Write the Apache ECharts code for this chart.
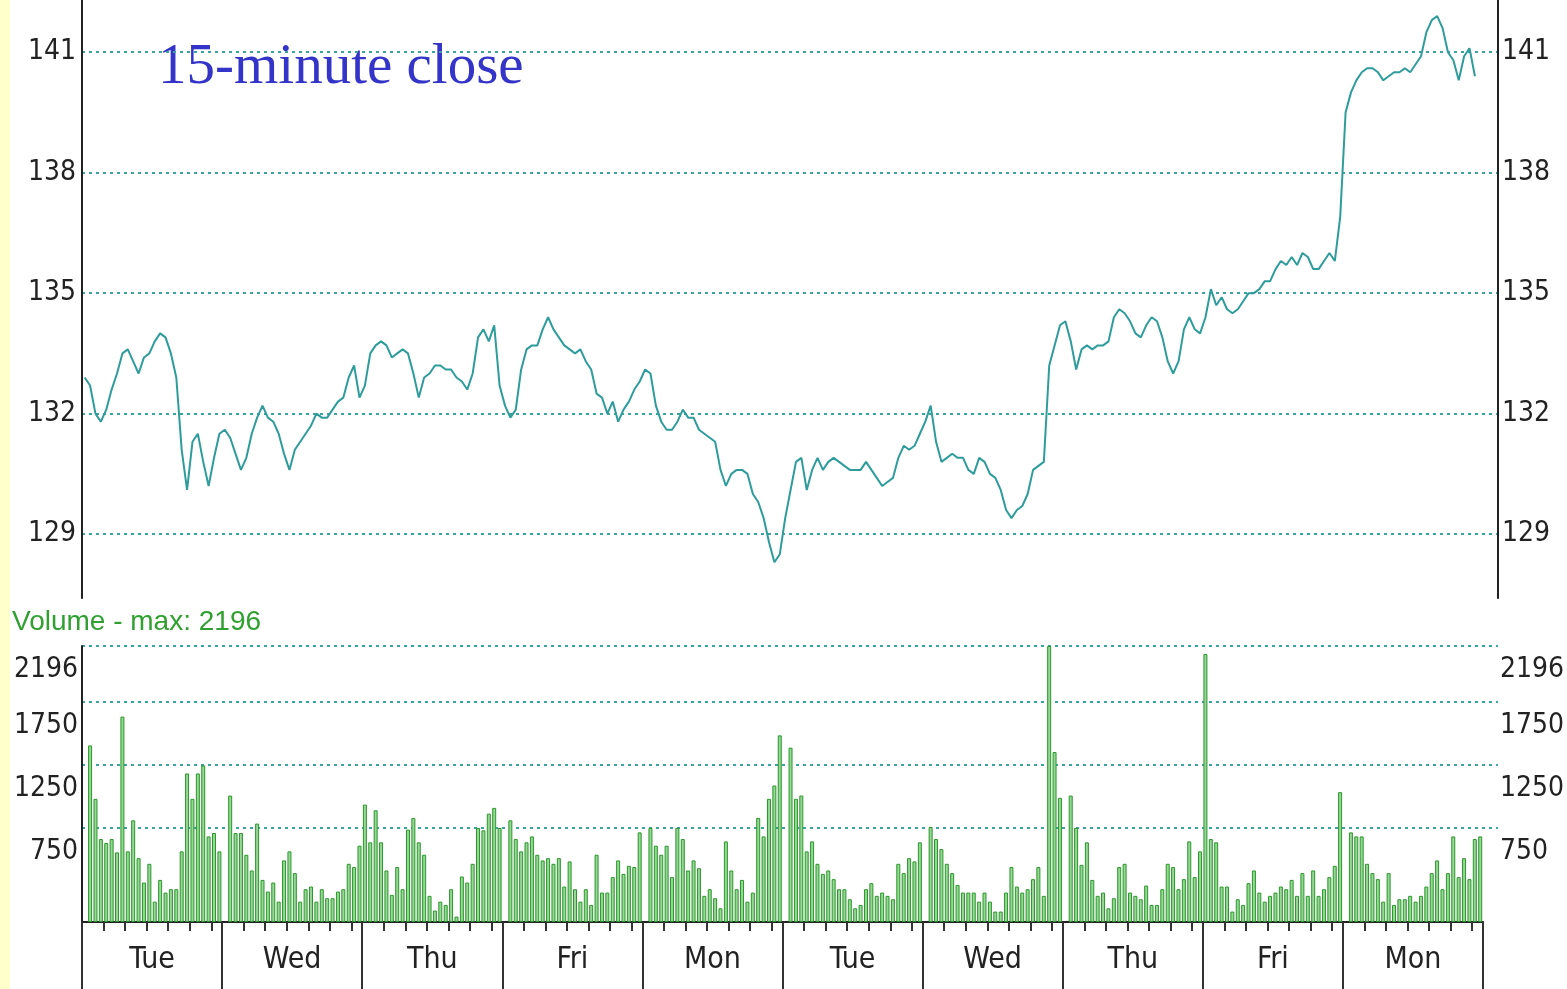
<!DOCTYPE html>
<html>
<head>
<meta charset="utf-8">
<script src="https://cdn.jsdelivr.net/npm/echarts@6/dist/echarts.min.js"></script>
<style>
  html, body { margin: 0; padding: 0; background: #fff; }
  #chart { width: 1567px; height: 989px; }
  #strip { position: absolute; left: 0; top: 0; width: 10px; height: 989px; background: #ffffcc; z-index: 2; }
</style>
</head>
<body>
<div id="chart"></div>
<div id="strip"></div>
<script>
// session labels, 26 fifteen-minute slots per day
const dayLabels = ['Tue', 'Wed', 'Thu', 'Fri', 'Mon', 'Tue', 'Wed', 'Thu', 'Fri', 'Mon'];
const slotsPerDay = 26;
const priceTicks = [129, 132, 135, 138, 141];
const volumeTicks = [750, 1250, 1750, 2196];

// 15-minute closes, one row per day
const closes = [
  132.9, 132.7, 132.0, 131.8, 132.1, 132.6, 133.0, 133.5, 133.6, 133.3, 133.0, 133.4, 133.5, 133.8, 134.0, 133.9, 133.5, 132.9, 131.1, 130.1, 131.3, 131.5, 130.8, 130.2, 130.9, 131.5,
  131.6, 131.4, 131.0, 130.6, 130.9, 131.5, 131.9, 132.2, 131.9, 131.8, 131.5, 131.0, 130.6, 131.1, 131.3, 131.5, 131.7, 132.0, 131.9, 131.9, 132.1, 132.3, 132.4, 132.9, 133.2, 132.4,
  132.7, 133.5, 133.7, 133.8, 133.7, 133.4, 133.5, 133.6, 133.5, 133.0, 132.4, 132.9, 133.0, 133.2, 133.2, 133.1, 133.1, 132.9, 132.8, 132.6, 133.0, 133.9, 134.1, 133.8, 134.2, 132.7,
  132.2, 131.9, 132.1, 133.1, 133.6, 133.7, 133.7, 134.1, 134.4, 134.1, 133.9, 133.7, 133.6, 133.5, 133.6, 133.3, 133.1, 132.5, 132.4, 132.0, 132.3, 131.8, 132.1, 132.3, 132.6, 132.8,
  133.1, 133.0, 132.2, 131.8, 131.6, 131.6, 131.8, 132.1, 131.9, 131.9, 131.6, 131.5, 131.4, 131.3, 130.6, 130.2, 130.5, 130.6, 130.6, 130.5, 130.0, 129.8, 129.4, 128.8, 128.3, 128.5,
  129.4, 130.1, 130.8, 130.9, 130.1, 130.6, 130.9, 130.6, 130.8, 130.9, 130.8, 130.7, 130.6, 130.6, 130.6, 130.8, 130.6, 130.4, 130.2, 130.3, 130.4, 130.9, 131.2, 131.1, 131.2, 131.5,
  131.8, 132.2, 131.3, 130.8, 130.9, 131.0, 130.9, 130.9, 130.6, 130.5, 130.9, 130.8, 130.5, 130.4, 130.1, 129.6, 129.4, 129.6, 129.7, 130.0, 130.6, 130.7, 130.8, 133.2, 133.7, 134.2,
  134.3, 133.8, 133.1, 133.6, 133.7, 133.6, 133.7, 133.7, 133.8, 134.4, 134.6, 134.5, 134.3, 134.0, 133.9, 134.2, 134.4, 134.3, 133.9, 133.3, 133.0, 133.3, 134.1, 134.4, 134.1, 134.0,
  134.4, 135.1, 134.7, 134.9, 134.6, 134.5, 134.6, 134.8, 135.0, 135.0, 135.1, 135.3, 135.3, 135.6, 135.8, 135.7, 135.9, 135.7, 136.0, 135.9, 135.6, 135.6, 135.8, 136.0, 135.8, 136.9,
  139.5, 140.0, 140.3, 140.5, 140.6, 140.6, 140.5, 140.3, 140.4, 140.5, 140.5, 140.6, 140.5, 140.7, 140.9, 141.5, 141.8, 141.9, 141.6, 141.0, 140.8, 140.3, 140.9, 141.1, 140.4, null
];

// 15-minute volume, one row per day
const volumes = [
  null, 1405, 980, 660, 628, 660, 554, 1634, 562, 809, 508, 314, 463, 162, 335, 234, 261, 261, 562, 1182, 980, 1182, 1246, 681, 708, 562,
  null, 1006, 708, 708, 535, 410, 783, 335, 242, 314, 162, 490, 562, 389, 162, 261, 282, 162, 261, 189, 189, 242, 261, 463, 437, 607,
  934, 634, 889, 634, 410, 216, 437, 261, 735, 828, 634, 535, 208, 91, 162, 136, 261, 43, 362, 314, 463, 748, 729, 862, 908, 748,
  null, 809, 660, 562, 634, 681, 535, 490, 508, 463, 508, 282, 482, 261, 162, 261, 136, 535, 234, 234, 357, 490, 383, 447, 437, 713,
  null, 748, 607, 535, 607, 357, 748, 660, 410, 490, 428, 208, 261, 189, 109, 641, 410, 261, 335, 162, 234, 828, 681, 980, 1086, 1485,
  null, 1387, 980, 1006, 562, 641, 463, 383, 410, 341, 261, 261, 181, 109, 136, 261, 309, 208, 234, 208, 181, 463, 389, 508, 482, 634,
  null, 756, 660, 580, 463, 389, 295, 234, 234, 234, 162, 234, 162, 83, 83, 234, 437, 282, 234, 261, 341, 437, 208, 2196, 1352, 988,
  null, 1006, 748, 455, 634, 335, 208, 234, 109, 189, 437, 463, 234, 208, 181, 290, 136, 136, 261, 463, 437, 261, 341, 641, 357, 562,
  2132, 660, 634, 282, 282, 83, 181, 136, 309, 410, 234, 162, 208, 234, 282, 261, 335, 208, 389, 208, 410, 208, 261, 357, 447, 1033,
  null, 713, 681, 681, 463, 389, 341, 162, 389, 136, 181, 181, 208, 162, 208, 282, 389, 490, 261, 389, 681, 357, 508, 341, 660, 681
];

const chart = echarts.init(document.getElementById('chart'));

const narrow = "'Liberation Sans Narrow', 'DejaVu Sans Condensed', sans-serif";
const gridColor = '#3aa3a3';
const axisColor = '#222';
const plain = (v) => String(v);

// plot spans x=82..1498, day axis ends at 1483
const plotLeft = 82, plotRight = 1498, dayRight = 1483;
const slots = closes.length;
const xMax = slots * (plotRight - plotLeft) / (dayRight - plotLeft);
const slotIndex = closes.map((_, i) => String(i));

const dottedSplit = {
  show: true,
  lineStyle: { color: gridColor, width: 2, type: [3, 4] }
};

chart.setOption({
  animation: false,
  grid: [
    { left: plotLeft, width: plotRight - plotLeft, top: 0, height: 598 },
    { left: plotLeft, width: plotRight - plotLeft, top: 646, height: 276 },
    { left: plotLeft, width: dayRight - plotLeft, top: 921, height: 1 }
  ],
  xAxis: [
    { type: 'value', gridIndex: 0, min: 0, max: xMax, show: false },
    { type: 'value', gridIndex: 1, min: 0, max: xMax, show: false },
    {
      type: 'category', gridIndex: 2, position: 'bottom', data: dayLabels, boundaryGap: true,
      axisLine: { show: true, lineStyle: { color: axisColor, width: 2 } },
      axisTick: { show: true, length: 70, lineStyle: { color: '#333', width: 2 } },
      axisLabel: { margin: 22, fontFamily: narrow, fontSize: 30, color: '#222', lineHeight: 32 },
      splitLine: { show: false }
    },
    {
      type: 'category', gridIndex: 2, position: 'bottom', offset: 0, data: slotIndex, boundaryGap: true,
      axisLine: { show: false },
      axisTick: {
        show: true, length: 9,
        interval: (i) => (i % slotsPerDay) % 4 === 0 && i % slotsPerDay !== 0,
        lineStyle: { color: '#333', width: 2 }
      },
      axisLabel: { show: false },
      splitLine: { show: false }
    }
  ],
  yAxis: [
    {
      type: 'value', gridIndex: 0, position: 'left', min: 127.41, max: 142.3,
      axisLine: { show: true, lineStyle: { color: axisColor, width: 2 } },
      axisTick: { show: false, customValues: priceTicks },
      axisLabel: { customValues: priceTicks, formatter: plain, margin: 6, fontFamily: narrow, fontSize: 28, color: '#222' },
      splitLine: dottedSplit
    },
    {
      type: 'value', gridIndex: 0, position: 'right', min: 127.41, max: 142.3,
      axisLine: { show: true, lineStyle: { color: axisColor, width: 2 } },
      axisTick: { show: false, customValues: priceTicks },
      axisLabel: { customValues: priceTicks, formatter: plain, margin: 4, fontFamily: narrow, fontSize: 28, color: '#222' },
      splitLine: { show: false }
    },
    {
      type: 'value', gridIndex: 1, position: 'left', min: 0, max: 2196,
      axisLine: { show: true, lineStyle: { color: axisColor, width: 2 } },
      axisTick: { show: false, customValues: volumeTicks },
      axisLabel: {
        customValues: volumeTicks, formatter: plain, margin: 4, fontFamily: narrow, fontSize: 28, color: '#222',
        verticalAlign: 'top', padding: [10, 0, 0, 0]
      },
      splitLine: dottedSplit
    },
    {
      type: 'value', gridIndex: 1, position: 'right', min: 0, max: 2196,
      axisLine: { show: false },
      axisTick: { show: false, customValues: volumeTicks },
      axisLabel: {
        customValues: volumeTicks, formatter: plain, margin: 2, fontFamily: narrow, fontSize: 28, color: '#222',
        verticalAlign: 'top', padding: [10, 0, 0, 0]
      },
      splitLine: { show: false }
    },
    { type: 'value', gridIndex: 2, show: false }
  ],
  graphic: [
    {
      type: 'text', left: 158, top: 40,
      style: { text: '15-minute close', font: "57px 'Liberation Serif', serif", fill: '#3434c8' }
    },
    {
      type: 'text', left: 12, top: 608,
      style: { text: 'Volume - max: 2196', font: "28px 'Liberation Sans', sans-serif", fill: '#30a030' }
    }
  ],
  series: [
    {
      type: 'line', xAxisIndex: 0, yAxisIndex: 0,
      data: closes.map((v, i) => [i + 0.5, v]),
      showSymbol: false,
      connectNulls: false,
      lineStyle: { color: '#2f9c9c', width: 2 },
      z: 5
    },
    {
      type: 'bar', xAxisIndex: 1, yAxisIndex: 2,
      data: volumes.map((v, i) => [i + 0.5, v]),
      barWidth: 4,
      itemStyle: { color: '#96d696', borderColor: '#2a982a', borderWidth: 1 },
      z: 5
    }
  ]
});
</script>
</body>
</html>
